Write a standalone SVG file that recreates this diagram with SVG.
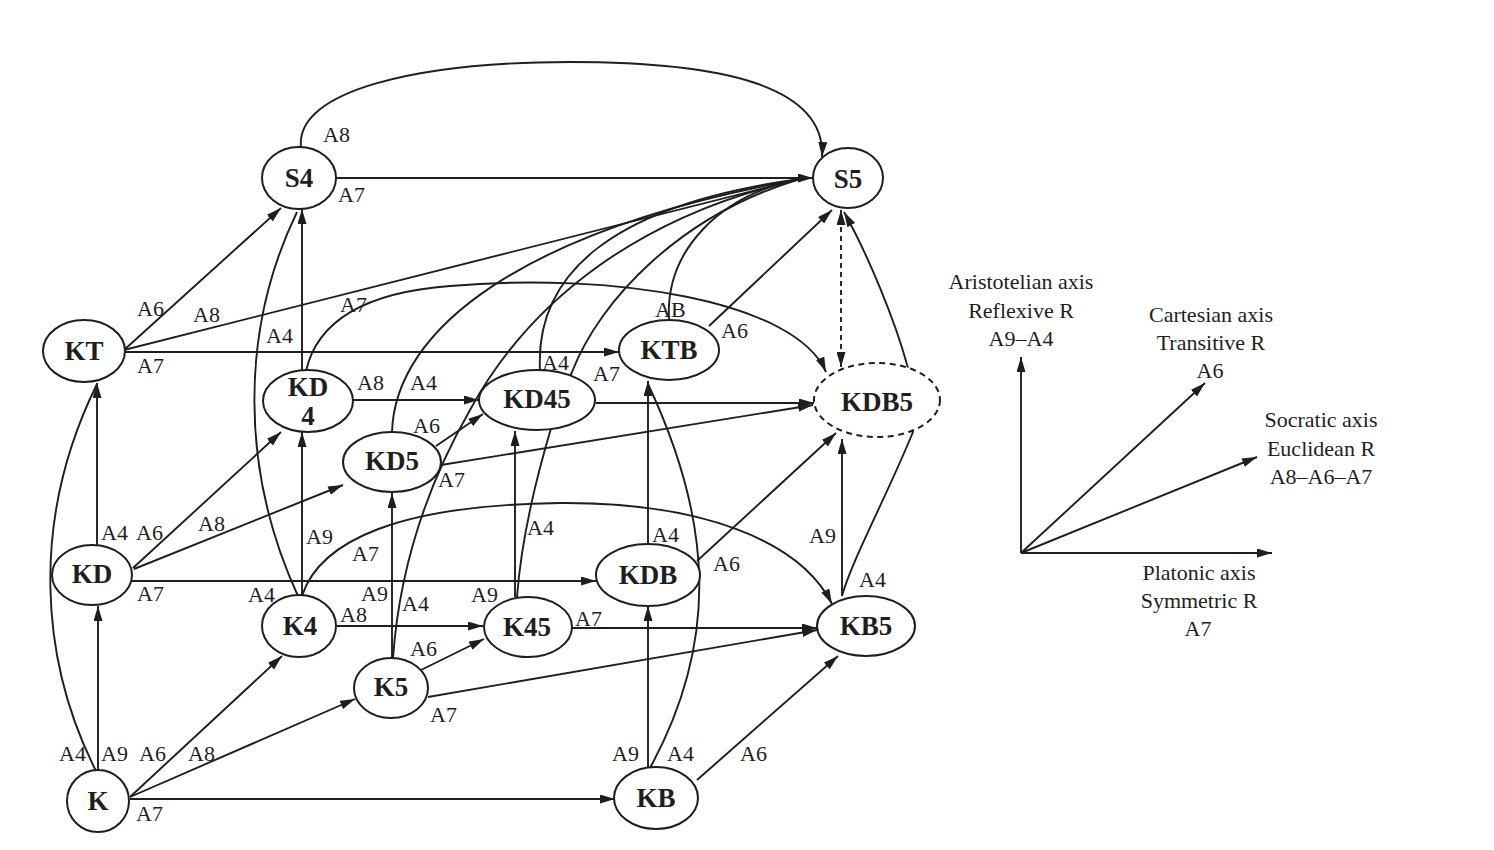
<svg xmlns="http://www.w3.org/2000/svg" width="1494" height="850" viewBox="0 0 1494 850">
<style>
.e{fill:none;stroke:#1e1e1e;stroke-width:1.9}
.a{marker-end:url(#arr)}
.n{fill:#fff;stroke:#1e1e1e;stroke-width:2}
.nd{fill:#fff;stroke:#1e1e1e;stroke-width:2;stroke-dasharray:6 4.5}
.t{font-family:"Liberation Serif","Times New Roman",serif;font-weight:bold;font-size:27px;fill:#1e1e1e;text-anchor:middle}
.l{font-family:"Liberation Serif","Times New Roman",serif;font-size:22px;fill:#1e1e1e}
.x{font-family:"Liberation Serif","Times New Roman",serif;font-size:22px;fill:#1e1e1e;text-anchor:middle}
</style>
<defs>
<marker id="arr" viewBox="0 0 15 9" refX="15" refY="4.5" markerWidth="15" markerHeight="9" markerUnits="userSpaceOnUse" orient="auto-start-reverse">
<path d="M0,0 L15,4.5 L0,9 z" fill="#1e1e1e"/>
</marker>
</defs>
<rect width="1494" height="850" fill="#fff"/>
<g id="connectors">
<!-- from K -->
<path class="e a" d="M98,770 L98,606"/>
<path class="e" d="M96,771 C40,660 30,520 97,384"/>
<path class="e a" d="M130,797 L282,656"/>
<path class="e a" d="M130,797 L355,699"/>
<path class="e a" d="M130,799 L615,799"/>
<!-- from KD -->
<path class="e a" d="M97,545 L97,383"/>
<path class="e a" d="M133,568 L281,432"/>
<path class="e a" d="M134,569 L343,485"/>
<path class="e a" d="M132,581 L596,581"/>
<!-- from KT -->
<path class="e a" d="M124,350 L281,208"/>
<path class="e" d="M124,350 L800,179"/>
<path class="e a" d="M124,352 L619,352"/>
<!-- from S4 -->
<path class="e a" d="M336,178 L813,178"/>
<path class="e a" d="M301,147 C295,90 420,62 570,62 C720,62 826,85 822,157"/>
<!-- from KD4 -->
<path class="e a" d="M302,371 L302,209"/>
<path class="e a" d="M306,371 C318,318 370,292 450,286 C610,272 795,300 826,372"/>
<path class="e a" d="M353,400 L479,400"/>
<!-- from K4 -->
<path class="e a" d="M302,595 L302,432"/>
<path class="e" d="M298,596 C240,470 240,330 297,212"/>
<path class="e a" d="M337,626 L483,626"/>
<path class="e a" d="M302,596 C320,540 400,505 560,503 C700,502 800,540 832,604"/>
<!-- from K5 -->
<path class="e a" d="M392,658 L392,493"/>
<path class="e" d="M393,658 C400,560 430,480 470,410 C530,300 640,215 800,179"/>
<path class="e a" d="M421,670 L484,639"/>
<path class="e a" d="M428,697 L817,630"/>
<!-- from K45 -->
<path class="e a" d="M572,628 L817,628"/>
<path class="e a" d="M515,597 L515,431"/>
<path class="e" d="M517,597 C522,530 540,465 552,425 C560,400 566,385 572,372 C600,300 680,215 800,179"/>
<!-- from KD5 -->
<path class="e a" d="M436,446 L483,414"/>
<path class="e a" d="M441,465 L813,405"/>
<path class="e" d="M392,432 C395,330 520,230 800,179"/>
<!-- from KD45 -->
<path class="e a" d="M596,403 L814,403"/>
<path class="e" d="M540,370 C535,275 610,205 800,179"/>
<!-- from KTB -->
<path class="e a" d="M709,326 L832,210"/>
<path class="e" d="M669,320 C665,250 720,195 800,179"/>
<!-- from KDB -->
<path class="e a" d="M648,544 L648,381"/>
<path class="e a" d="M697,561 L836,433"/>
<!-- from KB5 -->
<path class="e a" d="M842,596 L842,439"/>
<path class="e a" d="M842,596 C852,560 885,500 913,432 L908,368 C895,320 868,255 844,212"/>
<!-- KDB5 <-> S5 -->
<path class="e" style="stroke-dasharray:5 4;marker-start:url(#arr);marker-end:url(#arr)" d="M841,367 L841,210"/>
<!-- from KB -->
<path class="e a" d="M648,767 L648,606"/>
<path class="e" d="M650,768 C720,640 712,520 648,384"/>
<path class="e a" d="M697,780 L838,656"/>
</g>
<g id="node-S4"><ellipse class="n" cx="299" cy="178" rx="37" ry="31"/><text class="t" x="299" y="187">S4</text></g>
<g id="node-S5"><ellipse class="n" cx="848" cy="178" rx="35" ry="30"/><text class="t" x="848" y="188">S5</text></g>
<g id="node-KT"><ellipse class="n" cx="84" cy="351" rx="41" ry="31"/><text class="t" x="84" y="360">KT</text></g>
<g id="node-KTB"><ellipse class="n" cx="669" cy="350" rx="50" ry="30"/><text class="t" x="669" y="359">KTB</text></g>
<g id="node-KD4"><ellipse class="n" cx="308" cy="401" rx="45" ry="31"/><text class="t" x="308" y="396">KD</text><text class="t" x="308" y="425">4</text></g>
<g id="node-KD45"><ellipse class="n" cx="537" cy="400" rx="58" ry="30"/><text class="t" x="537" y="408">KD45</text></g>
<g id="node-KDB5"><ellipse class="nd" cx="877" cy="400" rx="63" ry="37"/><text class="t" x="877" y="411">KDB5</text></g>
<g id="node-KD5"><ellipse class="n" cx="392" cy="462" rx="49" ry="30"/><text class="t" x="392" y="470">KD5</text></g>
<g id="node-KD"><ellipse class="n" cx="92" cy="575" rx="40" ry="30"/><text class="t" x="92" y="583">KD</text></g>
<g id="node-KDB"><ellipse class="n" cx="648" cy="575" rx="52" ry="31"/><text class="t" x="648" y="584">KDB</text></g>
<g id="node-K4"><ellipse class="n" cx="299" cy="626" rx="37" ry="31"/><text class="t" x="300" y="635">K4</text></g>
<g id="node-K45"><ellipse class="n" cx="528" cy="627" rx="44" ry="30"/><text class="t" x="527" y="636">K45</text></g>
<g id="node-KB5"><ellipse class="n" cx="866" cy="626" rx="49" ry="30"/><text class="t" x="866" y="635">KB5</text></g>
<g id="node-K5"><ellipse class="n" cx="391" cy="688" rx="37" ry="30"/><text class="t" x="391" y="696">K5</text></g>
<g id="node-K"><ellipse class="n" cx="98" cy="801" rx="31" ry="31"/><text class="t" x="98" y="810">K</text></g>
<g id="node-KB"><ellipse class="n" cx="656" cy="798" rx="42" ry="31"/><text class="t" x="656" y="807">KB</text></g>
<g id="edge-labels">
<text class="l" x="323" y="142">A8</text>
<text class="l" x="338" y="202">A7</text>
<text class="l" x="137" y="316">A6</text>
<text class="l" x="193" y="322">A8</text>
<text class="l" x="340" y="312">A7</text>
<text class="l" x="266" y="343">A4</text>
<text class="l" x="137" y="373">A7</text>
<text class="l" x="655" y="317">AB</text>
<text class="l" x="721" y="338">A6</text>
<text class="l" x="542" y="370">A4</text>
<text class="l" x="593" y="381">A7</text>
<text class="l" x="357" y="390">A8</text>
<text class="l" x="410" y="390">A4</text>
<text class="l" x="413" y="433">A6</text>
<text class="l" x="438" y="487">A7</text>
<text class="l" x="101" y="540">A4</text>
<text class="l" x="136" y="540">A6</text>
<text class="l" x="198" y="531">A8</text>
<text class="l" x="306" y="544">A9</text>
<text class="l" x="352" y="561">A7</text>
<text class="l" x="527" y="535">A4</text>
<text class="l" x="652" y="542">A4</text>
<text class="l" x="713" y="571">A6</text>
<text class="l" x="809" y="543">A9</text>
<text class="l" x="859" y="587">A4</text>
<text class="l" x="137" y="601">A7</text>
<text class="l" x="248" y="602">A4</text>
<text class="l" x="361" y="601">A9</text>
<text class="l" x="402" y="611">A4</text>
<text class="l" x="471" y="602">A9</text>
<text class="l" x="340" y="622">A8</text>
<text class="l" x="575" y="626">A7</text>
<text class="l" x="410" y="656">A6</text>
<text class="l" x="430" y="722">A7</text>
<text class="l" x="59" y="761">A4</text>
<text class="l" x="101" y="761">A9</text>
<text class="l" x="139" y="761">A6</text>
<text class="l" x="188" y="761">A8</text>
<text class="l" x="136" y="821">A7</text>
<text class="l" x="612" y="761">A9</text>
<text class="l" x="667" y="761">A4</text>
<text class="l" x="740" y="761">A6</text>
</g>
<g id="axes">
<path class="e a" d="M1021,553 L1021,357"/>
<path class="e a" d="M1021,553 L1272,553"/>
<path class="e a" d="M1021,553 L1205,383"/>
<path class="e a" d="M1021,553 L1257,457"/>
<text class="x" x="1021" y="289">Aristotelian axis</text>
<text class="x" x="1021" y="318">Reflexive R</text>
<text class="x" x="1021" y="346">A9–A4</text>
<text class="x" x="1211" y="322">Cartesian axis</text>
<text class="x" x="1211" y="350">Transitive R</text>
<text class="x" x="1210" y="378">A6</text>
<text class="x" x="1321" y="427">Socratic axis</text>
<text class="x" x="1321" y="456">Euclidean R</text>
<text class="x" x="1321" y="484">A8–A6–A7</text>
<text class="x" x="1199" y="580">Platonic axis</text>
<text class="x" x="1199" y="608">Symmetric R</text>
<text class="x" x="1198" y="636">A7</text>
</g>
</svg>
